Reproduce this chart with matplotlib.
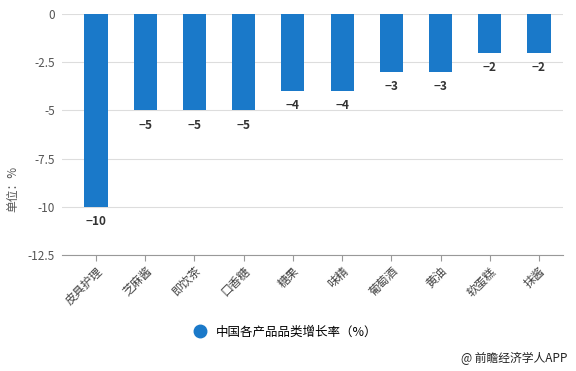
import matplotlib.pyplot as plt

plt.rcParams['font.family'] = ['Noto Sans CJK SC', 'DejaVu Sans']

# 品类与增长率
categories = ['皮具护理', '芝麻酱', '即饮茶', '口香糖', '糖果', '味精', '葡萄酒', '黄油', '软蛋糕', '抹酱']
values = [-10, -5, -5, -5, -4, -4, -3, -3, -2, -2]
yticks = [0, -2.5, -5, -7.5, -10, -12.5]
yticklabels = ['0', '-2.5', '-5', '-7.5', '-10', '-12.5']

bar_color = '#1a79c9'

fig = plt.figure(figsize=(5.76, 3.71), dpi=100)
ax = fig.add_axes([0.1076, 0.313, 0.87, 0.649])

x = range(len(categories))
ax.bar(x, values, width=0.47, color=bar_color, zorder=3)

# 数值标签
for i, v in zip(x, values):
    ax.annotate(str(v).replace('-', '−'), (i, v), xytext=(0, -6), textcoords='offset points',
                ha='center', va='top', fontsize=8.5, fontweight='bold', color='#333333')

ax.set_ylim(-12.5, 0)
ax.set_xlim(-0.69, 9.49)
ax.set_yticks(yticks)
ax.set_yticklabels(yticklabels)
ax.set_xticks(list(x))
ax.set_xticklabels(categories, rotation=45, ha='right', rotation_mode='anchor')

ax.grid(axis='y', color='#dddddd', linewidth=0.8, zorder=0)
for s in ['top', 'right', 'left']:
    ax.spines[s].set_visible(False)
ax.spines['bottom'].set_color('#999999')
ax.tick_params(axis='y', length=0, labelsize=8.5, labelcolor='#555555', pad=5)
ax.tick_params(axis='x', length=4, color='#999999', labelsize=8.5, labelcolor='#444444', pad=3)

fig.text(0.022, 0.49, '单位：%', rotation=90, ha='center', va='center', fontsize=8.5, color='#555555')

# 图例
fig.legend(handles=[plt.Line2D([], [], marker='o', linestyle='', color=bar_color, markersize=9)],
           labels=['中国各产品品类增长率（%）'], loc='center', bbox_to_anchor=(0.49, 0.105),
           frameon=False, fontsize=9, handletextpad=0.3)

fig.text(0.985, 0.035, '@ 前瞻经济学人APP', ha='right', va='center', fontsize=8.5, color='#222222')

fig.savefig('out.png', dpi=100)
